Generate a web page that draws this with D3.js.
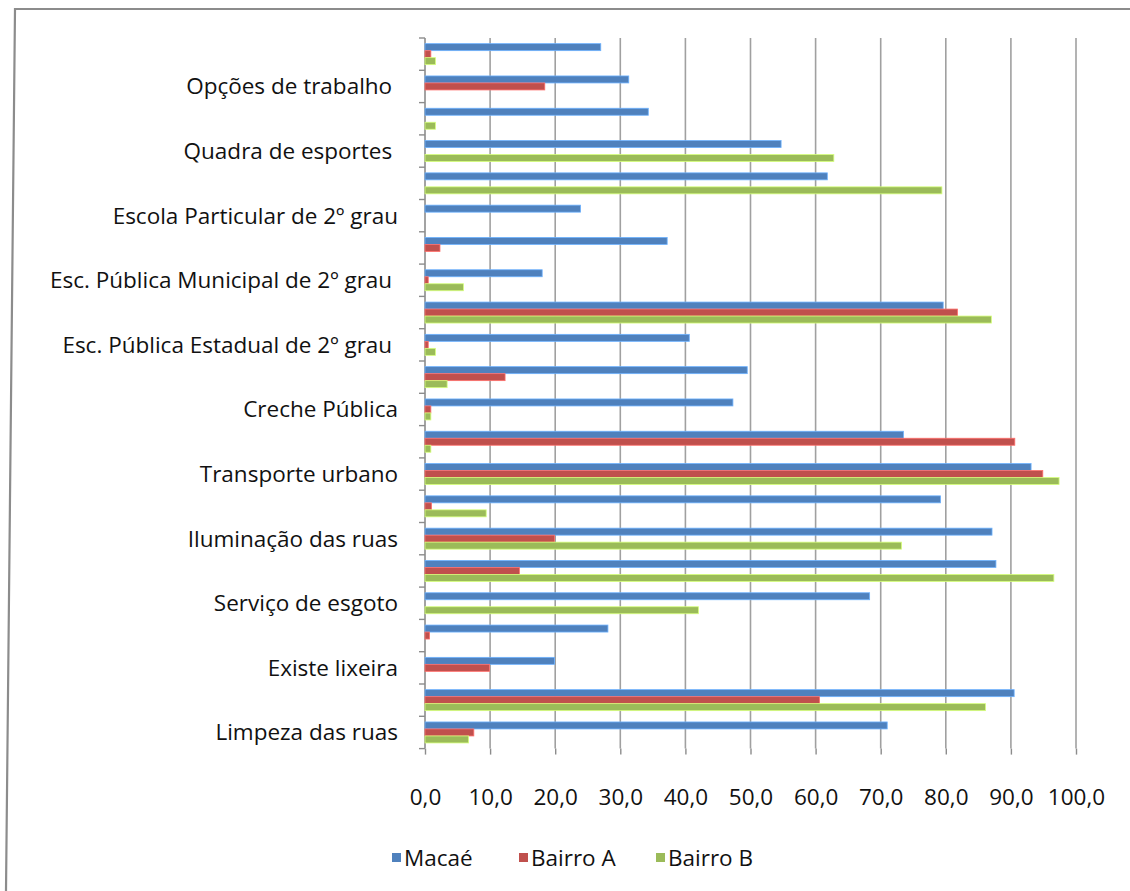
<!DOCTYPE html>
<html>
<head>
<meta charset="utf-8">
<script src="https://cdn.jsdelivr.net/npm/d3@7"></script>
<style>
  html, body { margin: 0; padding: 0; background: #fff; }
  svg { display: block; }
  text { font-family: "Open Sans", Lato, sans-serif; fill: #111; white-space: pre; }
</style>
</head>
<body>
<svg id="chart" width="1130" height="891"></svg>
<script>
// Categories listed top to bottom; only every other one carries a printed label.
const categories = [
  "", "Opções de trabalho ", "", "Quadra de esportes ", "", "Escola Particular de 2º grau",
  "", "Esc. Pública Municipal de 2º grau ", "", "Esc. Pública Estadual de 2º grau ", "",
  "Creche Pública", "", "Transporte urbano", "", "Iluminação das ruas", "",
  "Serviço de esgoto", "", "Existe lixeira", "", "Limpeza das ruas"
];
const seriesNames = ["Macaé", "Bairro A", "Bairro B"];
const seriesColors = ["#4F81BD", "#C0504D", "#9BBB59"];
const macae   = [27.0, 31.3, 34.3, 54.7, 61.8, 23.9, 37.2, 18.0, 79.6, 40.6, 49.5, 47.3, 73.5, 93.1, 79.2, 87.1, 87.7, 68.3, 28.1, 19.9, 90.5, 71.0];
const bairroA = [0.9, 18.4, 0, 0, 0, 0, 2.3, 0.5, 81.8, 0.5, 12.3, 0.9, 90.6, 94.9, 1.0, 19.9, 14.5, 0, 0.7, 9.9, 60.6, 7.5];
const bairroB = [1.6, 0, 1.6, 62.8, 79.4, 0, 0, 5.9, 87.0, 1.6, 3.4, 0.9, 0.9, 97.4, 9.4, 73.2, 96.6, 42.0, 0, 0, 86.1, 6.7];
const tickValues = [0, 10, 20, 30, 40, 50, 60, 70, 80, 90, 100];

const svg = d3.select("#chart");
const series = [macae, bairroA, bairroB];
const FONT = 22.5;

// Outer frame of the chart area
svg.append("path")
  .attr("d", "M6,891 L15,9 L1130,9")
  .attr("fill", "none").attr("stroke", "#8c8c8c").attr("stroke-width", 2.2);

const plot = { left: 425, right: 1076, top: 38, bottom: 748.6 };

const x = d3.scaleLinear().domain([0, 100]).range([plot.left, plot.right]);
const y = d3.scaleBand()
  .domain(d3.range(categories.length))
  .range([plot.top, plot.bottom])
  .paddingInner(0.35).paddingOuter(0.175);
const ySub = d3.scaleBand().domain(d3.range(series.length)).range([0, y.bandwidth()]);
const step = y.step();

// Vertical gridlines
svg.append("g").selectAll("line")
  .data(tickValues.slice(1))
  .join("line")
  .attr("x1", d => x(d)).attr("x2", d => x(d))
  .attr("y1", plot.top).attr("y2", plot.bottom)
  .attr("stroke", "#a0a0a0").attr("stroke-width", 1.6);

// Bottom value axis: tick marks and labels only
const xAxis = d3.axisBottom(x).tickValues(tickValues)
  .tickFormat(d => d3.format(".1f")(d).replace(".", ","))
  .tickSize(6).tickPadding(34);
const gx = svg.append("g").attr("transform", `translate(0,${plot.bottom})`).call(xAxis);
gx.select(".domain").remove();
gx.selectAll(".tick line").attr("stroke", "#8c8c8c").attr("stroke-width", 1.4);
gx.selectAll(".tick text").attr("font-size", FONT).attr("fill", "#111")
  .style("font-family", "'Open Sans', Lato, sans-serif");

// Category axis line and boundary ticks
svg.append("line")
  .attr("x1", plot.left).attr("x2", plot.left)
  .attr("y1", plot.top).attr("y2", plot.bottom)
  .attr("stroke", "#8c8c8c").attr("stroke-width", 1.6);
svg.append("g").selectAll("line")
  .data(d3.range(categories.length + 1))
  .join("line")
  .attr("x1", plot.left - 6).attr("x2", plot.left)
  .attr("y1", i => plot.top + i * step).attr("y2", i => plot.top + i * step)
  .attr("stroke", "#8c8c8c").attr("stroke-width", 1.4);

// Category labels
svg.append("g").selectAll("text")
  .data(categories.map((c, i) => ({ c, i })).filter(d => d.c !== ""))
  .join("text")
  .attr("x", 398)
  .attr("y", d => y(d.i) + y.bandwidth() / 2)
  .attr("dy", "0.35em")
  .attr("text-anchor", "end")
  .attr("font-size", FONT)
  .text(d => d.c);

// Bars
const groups = svg.append("g").selectAll("g")
  .data(categories.map((c, i) => i))
  .join("g")
  .attr("transform", i => `translate(0,${y(i)})`);
groups.selectAll("rect")
  .data(i => series.map((s, k) => ({ k, v: s[i] })).filter(d => d.v > 0))
  .join("rect")
  .attr("x", x(0))
  .attr("y", d => ySub(d.k))
  .attr("width", d => x(d.v) - x(0))
  .attr("height", ySub.bandwidth())
  .attr("fill", d => seriesColors[d.k])
  .attr("stroke", d => d3.color(seriesColors[d.k]).brighter(0.9))
  .attr("stroke-width", 0.8);

// Legend
const legendX = [392, 519, 656];
const legend = svg.append("g").selectAll("g")
  .data(seriesNames)
  .join("g")
  .attr("transform", (d, i) => `translate(${legendX[i]},858)`);
legend.append("rect")
  .attr("x", 0).attr("y", -5).attr("width", 9).attr("height", 9)
  .attr("fill", (d, i) => seriesColors[i]);
legend.append("text")
  .attr("x", 12).attr("y", 0).attr("dy", "0.35em")
  .attr("font-size", FONT)
  .text(d => d);
</script>
</body>
</html>
